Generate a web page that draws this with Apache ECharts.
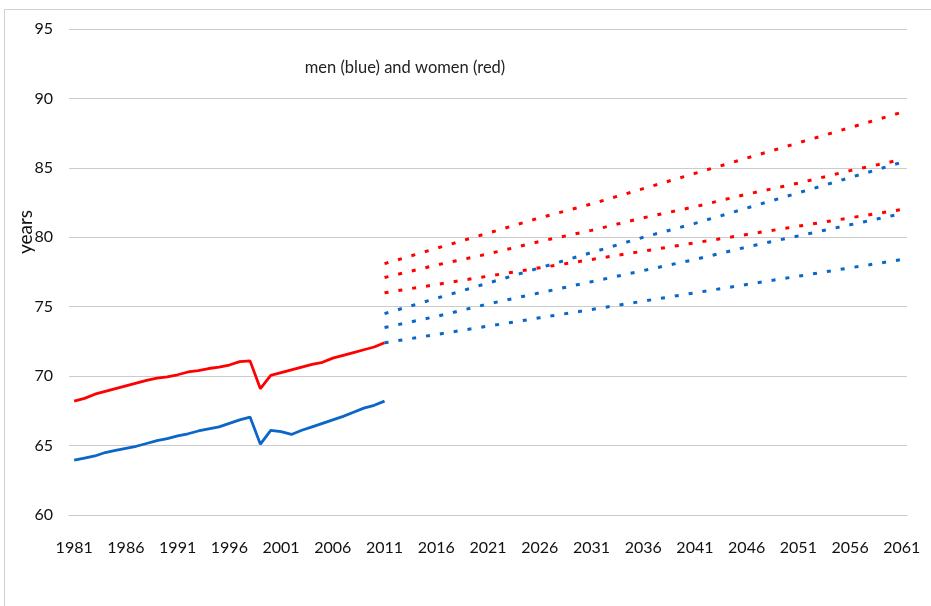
<!DOCTYPE html>
<html>
<head>
<meta charset="utf-8">
<script src="https://cdn.jsdelivr.net/npm/echarts@6/dist/echarts.min.js"></script>
<style>
    html, body { margin: 0; padding: 0; background: #fff; }
    #chart { width: 931px; height: 606px; }
</style>
</head>
<body>
<div id="chart"></div>
<script>
// categories 1981 .. 2061
const years = []
for (let y = 1981; y <= 2061; y++) years.push(String(y))

// observed life expectancy, 1981-2011
const histYears = years.slice(0, 31)
const womenHist = [68.2, 68.4, 68.7, 68.9, 69.1, 69.3, 69.5, 69.7, 69.85, 69.95,
    70.1, 70.3, 70.4, 70.55, 70.65, 70.8, 71.05, 71.1, 69.1, 70.05,
    70.25, 70.45, 70.65, 70.85, 71.0, 71.3, 71.5, 71.7, 71.9, 72.1, 72.4]
const menHist = [63.95, 64.1, 64.25, 64.5, 64.65, 64.8, 64.95, 65.15, 65.35, 65.5,
    65.7, 65.85, 66.05, 66.2, 66.35, 66.6, 66.85, 67.05, 65.1, 66.1,
    66.0, 65.8, 66.1, 66.35, 66.6, 66.85, 67.1, 67.4, 67.7, 67.9, 68.2]

// projections, read every 5 years 2011-2061
const projYears = ['2011', '2016', '2021', '2026', '2031', '2036', '2041', '2046', '2051', '2056', '2061']
const womenHigh = [78.1, 79.2, 80.3, 81.4, 82.4, 83.5, 84.6, 85.7, 86.8, 87.9, 89.0]
const womenMid = [77.1, 78.0, 78.8, 79.7, 80.5, 81.4, 82.2, 83.1, 83.9, 84.8, 85.6]
const womenLow = [76.0, 76.6, 77.2, 77.8, 78.4, 79.0, 79.6, 80.2, 80.8, 81.4, 82.0]
const menHigh = [74.5, 75.6, 76.7, 77.8, 78.9, 80.0, 81.0, 82.1, 83.2, 84.3, 85.4]
const menMid = [73.5, 74.3, 75.2, 76.0, 76.8, 77.6, 78.4, 79.3, 80.1, 80.9, 81.7]
const menLow = [72.4, 73.0, 73.6, 74.2, 74.8, 75.4, 76.0, 76.6, 77.2, 77.8, 78.4]

const RED = '#ff0000'
const BLUE = '#0a66c8'
const FONT = 'Lato, "Open Sans", sans-serif'

const pairs = (xs, vs) => xs.map((x, i) => [x, vs[i]])

const solid = (name, color, xs, vs) => ({
    name,
    type: 'line',
    data: pairs(xs, vs),
    symbol: 'none',
    lineStyle: { color, width: 2.8 }
})
const dotted = (name, color, vs) => ({
    name,
    type: 'line',
    data: pairs(projYears, vs),
    symbol: 'none',
    lineStyle: { color, width: 3, type: [4, 10], cap: 'butt' }
})

const chart = echarts.init(document.getElementById('chart'))
chart.setOption({
    animation: false,
    backgroundColor: '#fff',
    textStyle: { fontFamily: FONT },
    title: {
        text: 'men (blue) and women (red)',
        left: 400,
        top: 54,
        textAlign: 'center',
        textStyle: { fontFamily: FONT, fontSize: 16.5, fontWeight: 'normal', color: '#222' }
    },
    graphic: [{
        type: 'rect',
        shape: { x: 4.5, y: 9.5, width: 1200, height: 1200 },
        style: { fill: 'none', stroke: '#d0d0d0', lineWidth: 1 },
        silent: true
    }, {
        // axis title, rotated
        type: 'text',
        x: 26,
        y: 232,
        rotation: Math.PI / 2,
        style: {
            text: 'years',
            fontSize: 19,
            fontFamily: FONT,
            fill: '#111',
            align: 'center',
            verticalAlign: 'middle'
        },
        silent: true
    }],
    grid: { left: 69, right: 24, top: 29, bottom: 91 },
    xAxis: {
        type: 'category',
        data: years,
        boundaryGap: true,
        axisLine: { lineStyle: { color: '#c8c8c8', width: 1 } },
        axisTick: { interval: 4, inside: true, length: 5, lineStyle: { color: '#c8c8c8' } },
        axisLabel: { interval: 4, margin: 25, fontSize: 16, color: '#111', fontFamily: FONT },
        splitLine: { show: false }
    },
    yAxis: {
        type: 'value',
        min: 60,
        max: 95,
        interval: 5,
        axisLine: { show: false },
        axisTick: { show: false },
        axisLabel: { margin: 16, fontSize: 16, color: '#111', fontFamily: FONT },
        splitLine: { lineStyle: { color: '#cccccc', width: 1 } }
    },
    series: [
        solid('women', RED, histYears, womenHist),
        solid('men', BLUE, histYears, menHist),
        dotted('women high', RED, womenHigh),
        dotted('women mid', RED, womenMid),
        dotted('women low', RED, womenLow),
        dotted('men high', BLUE, menHigh),
        dotted('men mid', BLUE, menMid),
        dotted('men low', BLUE, menLow)
    ]
})
</script>
</body>
</html>
